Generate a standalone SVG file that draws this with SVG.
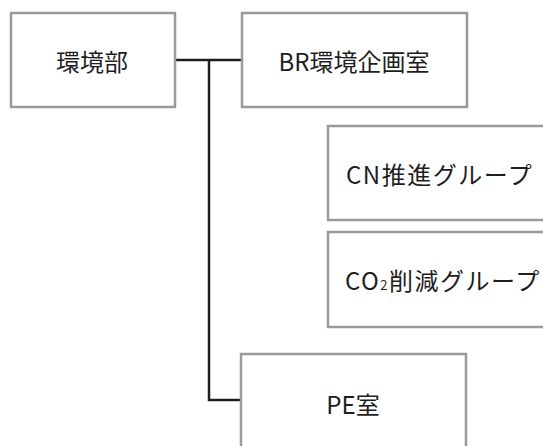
<svg xmlns="http://www.w3.org/2000/svg" width="543" height="446" viewBox="0 0 543 446">
<style>
.box{fill:#fff;stroke:#9a9a9a;stroke-width:2.5}
.lbl{font-family:"Noto Sans CJK JP","Noto Sans",sans-serif;font-size:24px;font-weight:400;fill:#1e1e1e;text-anchor:middle;dominant-baseline:central}
.wide{text-anchor:start;letter-spacing:1.5px}
.con{fill:none;stroke:#1e1e1e;stroke-width:2.5}
</style>
<rect width="543" height="446" fill="#fff"/>
<g id="connectors">
<path class="con" d="M175,60 H242 M209,60 V400 H242"/>
</g>
<g id="n1"><rect class="box" x="11" y="13" width="164" height="94"/><text class="lbl" x="92" y="60">環境部</text></g>
<g id="n2"><rect class="box" x="242" y="13" width="225" height="94"/><text class="lbl" x="354" y="60">BR環境企画室</text></g>
<g id="n3"><rect class="box" x="328" y="126" width="230" height="94"/><text class="lbl wide" x="346" y="173">CN推進グループ</text></g>
<g id="n4"><rect class="box" x="328" y="232" width="230" height="95"/><text class="lbl wide" x="345" y="279">CO<tspan font-size="13" dy="5">2</tspan><tspan dy="-5">削減グループ</tspan></text></g>
<g id="n5"><rect class="box" x="241" y="354" width="225" height="100"/><text class="lbl" x="353" y="403">PE室</text></g>
</svg>
